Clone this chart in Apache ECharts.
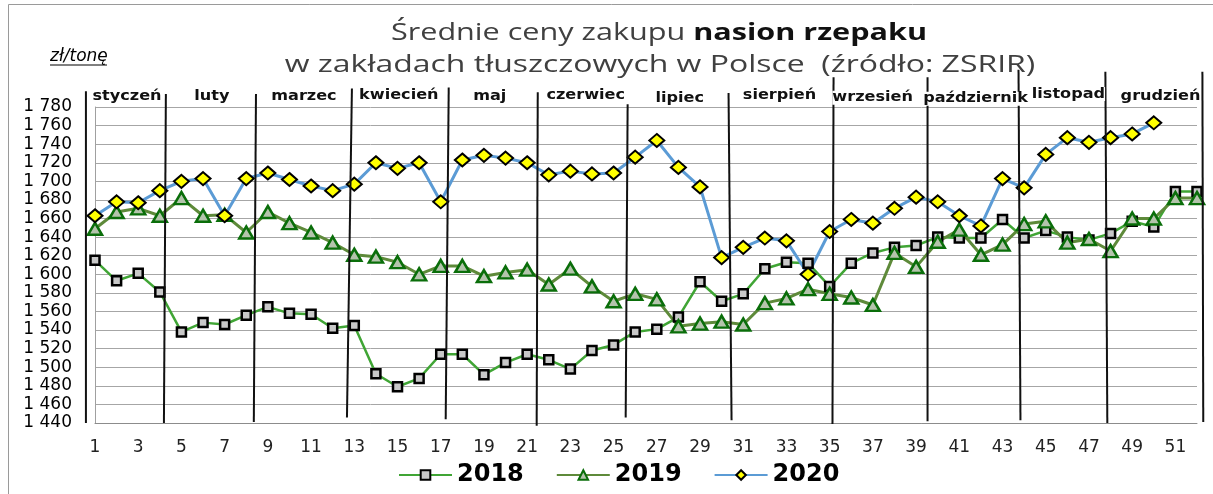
<!DOCTYPE html>
<html>
<head>
<meta charset="utf-8">
<script src="https://cdn.jsdelivr.net/npm/echarts@6/dist/echarts.min.js"></script>
<style>
    html, body { margin: 0; padding: 0; background: #fff; }
    #chart { width: 1213px; height: 494px; }
</style>
</head>
<body>
<div id="chart"></div>
<script>
var weeks = [];
for (var i = 1; i <= 52; i++) weeks.push(i);

var ceny2018 = [1615, 1593, 1601, 1581, 1538, 1548, 1546, 1556, 1565, 1558, 1557, 1542, 1545,
    1493, 1479, 1488, 1514, 1514, 1492, 1505, 1514, 1508, 1498, 1518, 1524, 1538,
    1541, 1554, 1592, 1571, 1579, 1606, 1613, 1612, 1587, 1612, 1623, 1629, 1631,
    1640, 1639, 1639, 1659, 1639, 1647, 1640, 1637, 1644, 1657, 1651, 1689, 1689];
var ceny2019 = [1649, 1667, 1671, 1663, 1682, 1663, 1664, 1645, 1667, 1655, 1645, 1634, 1621,
    1619, 1613, 1600, 1609, 1609, 1598, 1602, 1605, 1589, 1606, 1587, 1571, 1579,
    1573, 1544, 1547, 1549, 1546, 1569, 1574, 1584, 1579, 1575, 1567, 1623, 1608,
    1635, 1648, 1621, 1632, 1654, 1657, 1634, 1638, 1625, 1660, 1660, 1682, 1682];
var ceny2020 = [1663, 1678, 1677, 1690, 1700, 1703, 1663, 1703, 1709, 1702, 1695, 1690, 1697,
    1720, 1714, 1720, 1678, 1723, 1728, 1725, 1720, 1707, 1711, 1708, 1709, 1726,
    1744, 1715, 1694, 1618, 1629, 1639, 1636, 1600, 1646, 1659, 1655, 1671, 1683,
    1678, 1663, 1652, 1703, 1693, 1729, 1747, 1742, 1747, 1751, 1763];

var months = ['styczeń', 'luty', 'marzec', 'kwiecień', 'maj', 'czerwiec', 'lipiec',
    'sierpień', 'wrzesień', 'październik', 'listopad', 'grudzień'];
// miejsce podpisu miesiąca (tydzień, zł/t)
var monthLabelWeek = [2.48, 6.41, 10.67, 15.06, 19.27, 23.71, 28.06, 32.68, 36.99, 41.75, 46.05, 50.31];
var monthLabelVal = [1791, 1791, 1791, 1792, 1791, 1793, 1789, 1792, 1790, 1789, 1794, 1791];
// granice miesięcy: tydzień u góry / u dołu, wartość góra / dół
var boundTopWeek = [0.58, 4.28, 8.45, 12.89, 17.37, 21.49, 25.65, 30.32, 35.18, 39.53, 43.74, 47.76, 52.25];
var boundBotWeek = [0.58, 4.19, 8.35, 12.66, 17.23, 21.44, 25.56, 30.46, 35.13, 39.53, 43.83, 47.85, 52.29];
var boundTopVal = [1797, 1794, 1794, 1800, 1801, 1796, 1783, 1795, 1812, 1812, 1820, 1818, 1818];
var boundBotVal = [1440, 1440, 1441, 1446, 1444, 1437, 1446, 1443, 1439, 1442, 1443, 1440, 1441];

function pairs(vals) {
    return vals.map(function(v, i) { return [weeks[i], v]; });
}

var chart = echarts.init(document.getElementById('chart'));

var option = {
    animation: false,
    legend: {
        left: 393,
        top: 458,
        itemWidth: 53,
        itemHeight: 12,
        itemGap: 32,
        textStyle: { fontFamily: 'DejaVu Sans', fontSize: 24, fontWeight: 'bold', color: '#000' },
        data: ['2018', '2019', '2020']
    },
    grid: {
        left: 95,
        right: 16,
        top: 107,
        bottom: 71,
        outerBoundsMode: 'none'
    },
    xAxis: {
        type: 'value',
        min: 1,
        max: 52,
        interval: 1,
        axisLine: { lineStyle: { color: '#8c8c8c' } },
        axisTick: { show: false },
        splitLine: { show: false },
        axisLabel: {
            margin: 16,
            fontFamily: 'DejaVu Sans',
            fontSize: 17,
            color: '#222',
            formatter: function(v) { return v % 2 === 1 ? String(v) : ''; }
        }
    },
    yAxis: {
        type: 'value',
        min: 1440,
        max: 1780,
        interval: 20,
        axisLine: { show: true, lineStyle: { color: '#a0a0a0' } },
        axisTick: { show: false },
        splitLine: { lineStyle: { color: '#a6a6a6', width: 1 } },
        axisLabel: {
            margin: 23,
            fontFamily: 'DejaVu Sans',
            fontSize: 17,
            color: '#000',
            formatter: function(v) { return String(v).replace(/^(\d)(\d{3})$/, '$1 $2'); }
        }
    },
    series: [{
        name: '2018',
        type: 'line',
        data: pairs(ceny2018),
        symbol: 'rect',
        symbolSize: 9,
        lineStyle: { color: '#40a535', width: 2.5 },
        itemStyle: { color: '#c8c8c8', borderColor: '#000', borderWidth: 2.5 }
    }, {
        name: '2019',
        type: 'line',
        data: pairs(ceny2019),
        symbol: 'triangle',
        symbolSize: [14, 12],
        lineStyle: { color: '#5e8a3a', width: 3 },
        itemStyle: { color: '#b4c4ac', borderColor: '#0a6e0a', borderWidth: 2.5 }
    }, {
        name: '2020',
        type: 'line',
        data: pairs(ceny2020),
        symbol: 'diamond',
        symbolSize: [15, 13],
        lineStyle: { color: '#5b9bd5', width: 3 },
        itemStyle: { color: '#ffff00', borderColor: '#000', borderWidth: 2 }
    }]
};

chart.setOption(option);

function px(w, v) {
    return chart.convertToPixel({ gridIndex: 0 }, [w, v]);
}

var graphics = [{
    type: 'rect',
    shape: { x: 8.5, y: 4.5, width: 1220, height: 520 },
    style: { fill: 'none', stroke: '#9a9a9a', lineWidth: 1 },
    silent: true
}, {
    // tytuł - w oryginale rozciągnięty w poziomie
    type: 'text',
    x: 659,
    y: 33,
    scaleX: 1.33,
    style: {
        text: '{a|Średnie ceny zakupu }{b|nasion rzepaku}',
        align: 'center',
        verticalAlign: 'middle',
        rich: {
            a: { fontFamily: 'Open Sans', fontSize: 23, fontWeight: 'normal', fill: '#404040' },
            b: { fontFamily: 'Open Sans', fontSize: 23, fontWeight: 'bold', fill: '#111' }
        }
    }
}, {
    type: 'text',
    x: 660,
    y: 65,
    scaleX: 1.39,
    style: {
        text: 'w zakładach tłuszczowych w Polsce  (źródło: ZSRIR)',
        font: '23px "Open Sans"',
        fill: '#404040',
        align: 'center',
        verticalAlign: 'middle'
    }
}, {
    type: 'text',
    x: 50,
    y: 57,
    style: {
        text: 'zł/tonę',
        font: 'italic 17px "DejaVu Sans"',
        fill: '#000',
        verticalAlign: 'middle'
    }
}, {
    type: 'line',
    shape: { x1: 50, y1: 65, x2: 107, y2: 65 },
    style: { stroke: '#000', lineWidth: 1 }
}];

boundTopWeek.forEach(function(w, i) {
    var a = px(w, boundTopVal[i]);
    var b = px(boundBotWeek[i], boundBotVal[i]);
    graphics.push({
        type: 'line',
        shape: { x1: a[0], y1: a[1], x2: b[0], y2: b[1] },
        style: { stroke: '#111', lineWidth: 2 },
        z: 10
    });
});

months.forEach(function(m, i) {
    var p = px(monthLabelWeek[i], monthLabelVal[i]);
    graphics.push({
        type: 'text',
        x: p[0],
        y: p[1],
        scaleX: 1.15,
        style: {
            text: m,
            font: 'bold 14px "DejaVu Sans"',
            fill: '#111',
            align: 'center',
            verticalAlign: 'middle',
            backgroundColor: '#fff'
        },
        z: 11
    });
});

chart.setOption({ graphic: graphics });
</script>
</body>
</html>
